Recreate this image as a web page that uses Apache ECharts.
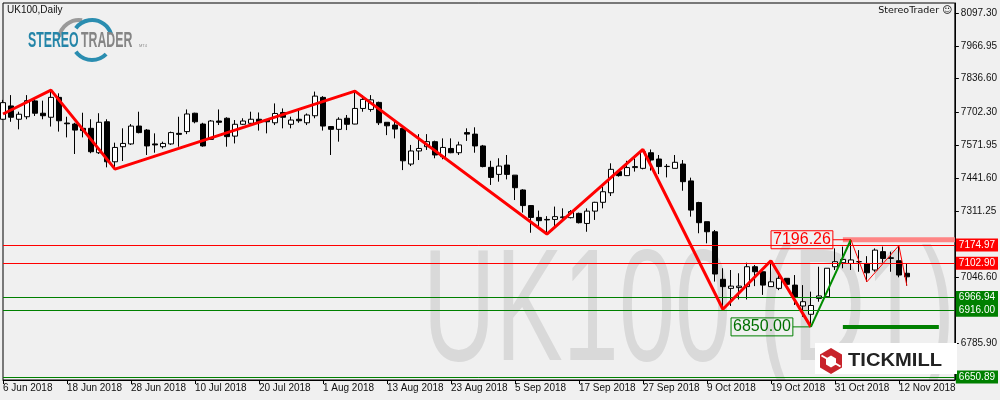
<!DOCTYPE html>
<html><head><meta charset="utf-8">
<script src="https://cdn.jsdelivr.net/npm/echarts@6/dist/echarts.min.js"></script>
<style>html,body{margin:0;padding:0;background:#f0f0f0}#c{width:1000px;height:400px}</style>
</head><body><div id="c"></div><script>
const dates = ['6 Jun 2018','7 Jun 2018','8 Jun 2018','11 Jun 2018','12 Jun 2018','13 Jun 2018','14 Jun 2018','15 Jun 2018','18 Jun 2018','19 Jun 2018','20 Jun 2018','21 Jun 2018','22 Jun 2018','25 Jun 2018','26 Jun 2018','27 Jun 2018','28 Jun 2018','29 Jun 2018',
'2 Jul 2018','3 Jul 2018','4 Jul 2018','5 Jul 2018','6 Jul 2018','9 Jul 2018','10 Jul 2018','11 Jul 2018','12 Jul 2018','13 Jul 2018','16 Jul 2018','17 Jul 2018','18 Jul 2018','19 Jul 2018','20 Jul 2018','23 Jul 2018','24 Jul 2018','25 Jul 2018','26 Jul 2018','27 Jul 2018','30 Jul 2018','31 Jul 2018',
'1 Aug 2018','2 Aug 2018','3 Aug 2018','6 Aug 2018','7 Aug 2018','8 Aug 2018','9 Aug 2018','10 Aug 2018','13 Aug 2018','14 Aug 2018','15 Aug 2018','16 Aug 2018','17 Aug 2018','20 Aug 2018','21 Aug 2018','22 Aug 2018','23 Aug 2018','24 Aug 2018','28 Aug 2018','29 Aug 2018','30 Aug 2018','31 Aug 2018',
'3 Sep 2018','4 Sep 2018','5 Sep 2018','6 Sep 2018','7 Sep 2018','10 Sep 2018','11 Sep 2018','12 Sep 2018','13 Sep 2018','14 Sep 2018','17 Sep 2018','18 Sep 2018','19 Sep 2018','20 Sep 2018','21 Sep 2018','24 Sep 2018','25 Sep 2018','26 Sep 2018','27 Sep 2018','28 Sep 2018',
'1 Oct 2018','2 Oct 2018','3 Oct 2018','4 Oct 2018','5 Oct 2018','8 Oct 2018','9 Oct 2018','10 Oct 2018','11 Oct 2018','12 Oct 2018','15 Oct 2018','16 Oct 2018','17 Oct 2018','18 Oct 2018','19 Oct 2018','22 Oct 2018','23 Oct 2018','24 Oct 2018','25 Oct 2018','26 Oct 2018','29 Oct 2018','30 Oct 2018','31 Oct 2018',
'1 Nov 2018','2 Nov 2018','5 Nov 2018','6 Nov 2018','7 Nov 2018','8 Nov 2018','9 Nov 2018','12 Nov 2018','13 Nov 2018'];

const opens = [7675,7728,7675,7685,7748,7699,7683,7762,7660,7656, 7639,7639,7542,7665,7506,7566,7577,7648,7632,7577,
7566,7577,7619,7626,7699,7656,7595,7668,7679,7608, 7655,7659,7675,7672,7661,7702,7655,7675,7661,7689,
7762,7646,7635,7679,7656,7718,7714,7742,7663,7652, 7639,7497,7549,7566,7586,7526,7559,7542,7622,7616,
7569,7484,7456,7493,7453,7394,7332,7285,7277,7277, 7284,7284,7301,7261,7310,7345,7383,7467,7451,7483,
7480,7542,7517,7487,7480,7497,7430,7344,7268,7228, 7039,7003,7006,7010,7089,7069,7010,7003,7043,7016,
6933,6900,6963,6970,7089,7105,7102,7109,7102,7076, 7149,7122,7113,7063];
const highs = [7752,7771,7705,7771,7758,7749,7791,7778,7685,7661, 7701,7675,7699,7675,7582,7639,7656,7705,7636,7619,
7586,7626,7685,7714,7701,7661,7672,7714,7683,7672, 7679,7705,7702,7675,7738,7718,7685,7714,7698,7785,
7767,7648,7683,7692,7787,7771,7771,7745,7663,7672, 7639,7573,7616,7616,7590,7599,7599,7586,7639,7643,
7573,7510,7520,7533,7453,7397,7334,7312,7290,7328, 7321,7314,7304,7321,7347,7407,7500,7470,7510,7520,
7555,7555,7533,7497,7533,7513,7443,7347,7268,7235, 7083,7076,7063,7105,7096,7069,7113,7056,7043,7056,
7016,6990,7089,7083,7162,7169,7196.26,7155,7131,7162, 7169,7149,7173,7102];
const lows = [7672,7665,7635,7675,7688,7675,7646,7626,7603,7537, 7603,7540,7537,7484,7477,7509,7573,7619,7533,7542,
7559,7573,7566,7616,7659,7566,7593,7652,7566,7579, 7652,7652,7630,7619,7652,7639,7639,7661,7652,7679,
7630,7533,7586,7632,7655,7705,7705,7652,7612,7599, 7473,7489,7513,7553,7520,7516,7540,7533,7589,7542,
7484,7414,7427,7436,7354,7304,7224,7251,7219,7251, 7268,7281,7261,7228,7275,7321,7370,7447,7450,7467,
7476,7471,7457,7444,7480,7391,7288,7222,7182,7030, 6920,6933,6959,6959,7012,6977,7010,6996,7012,6937,
6890,6850,6950,6970,7076,7083,7076,7069,7029,7069, 7105,7069,7047,7014];
const closes = [7741,7683,7695,7749,7699,7689,7762,7669,7657,7632, 7630,7546,7663,7506,7563,7579,7648,7622,7569,7573,
7579,7622,7615,7696,7665,7569,7668,7663,7606,7655, 7668,7675,7665,7665,7698,7683,7672,7669,7692,7767,
7648,7635,7675,7655,7718,7754,7752,7661,7649,7636, 7510,7549,7559,7586,7533,7563,7542,7573,7616,7569,
7487,7444,7489,7456,7403,7332,7285,7272,7275,7288, 7287,7308,7264,7310,7345,7387,7476,7451,7483,7487,
7546,7513,7487,7488,7504,7427,7314,7264,7228,7060, 7010,7012,7012,7089,7069,7016,7029,7043,7019,6967,
6950,6935,6973,7083,7109,7118,7116,7109,7065,7155, 7122,7125,7056,7049];

// zigzag pivots (bar index, price)
const zigIdx  = [0, 6, 14, 44, 68, 80, 90, 96, 101];
const zigVal  = [7696, 7791, 7477, 7787, 7219, 7555, 6920, 7113, 6850];
const upIdx   = [101, 106];
const upVal   = [6850, 7196.26];
const thinIdx = [106, 108, 112, 113];
const thinVal = [7196.26, 7029, 7173, 7014];

// horizontal levels
const levelVals   = [7174.97, 7102.90, 6966.94, 6916.00, 6650.89];
const levelColors = ['#ff0000', '#ff0000', '#008000', '#008000', '#008000'];
const resistance = 7196.26;
const support = 6850.00;

const yTicks = [8097.30, 7966.95, 7836.60, 7702.30, 7571.95, 7441.60, 7311.25, 7046.60, 6785.90];
const N_SLOTS = 120;

const FONT = "'Liberation Sans', Arial, sans-serif";
const cats = dates.concat(new Array(N_SLOTS - dates.length).fill(''));
const candleData = opens.map((o, i) => [o, closes[i], lows[i], highs[i]]);
const pairs = (idx, val) => idx.map((x, i) => [x, val[i]]);

const chart = echarts.init(document.getElementById('c'));
const option = {
  animation: false,
  backgroundColor: '#f0f0f0',
  textStyle: { fontFamily: FONT },
  grid: { left: 3, right: 43, top: 3, bottom: 20, show: true, borderColor: '#000', borderWidth: 1, backgroundColor: 'transparent' },
  xAxis: {
    type: 'category', data: cats, boundaryGap: false,
    axisLine: { lineStyle: { color: '#000', width: 1 } },
    axisTick: { interval: 7, length: 4, lineStyle: { color: '#000' } },
    axisLabel: { interval: 7, align: 'left', margin: 3, fontSize: 10, color: '#111', fontFamily: FONT },
    splitLine: { show: false }
  },
  yAxis: {
    type: 'value', position: 'right', min: 6638.9, max: 8137.0,
    axisLine: { show: true, lineStyle: { color: '#000' } },
    axisTick: { show: true, length: 4, customValues: yTicks, lineStyle: { color: '#000' } },
    axisLabel: { customValues: yTicks, formatter: v => v.toFixed(2), margin: 6, fontSize: 10, color: '#111', fontFamily: FONT },
    splitLine: { show: false }
  },
  graphic: { elements: [
    { type: 'text', z: -10, x: 955, y: 396, scaleX: 0.63,
      style: { text: 'UK100 (D1)', font: "160px 'Liberation Sans'", fill: '#d9d9d9', textAlign: 'right', textVerticalAlign: 'bottom' } },
    { type: 'rect', z: -5, shape: { x: 0, y: 380.5, width: 1000, height: 20 }, style: { fill: '#f0f0f0' } },
    { type: 'text', z: 50, x: 7, y: 5, style: { text: 'UK100,Daily', font: "10px 'Liberation Sans'", fill: '#111' } },
    { type: 'text', z: 50, x: 952, y: 6, style: { text: 'StereoTrader \u263A', font: "9.5px 'DejaVu Sans'", fill: '#111', textAlign: 'right' } },
    // StereoTrader logo rings
    { type: 'arc', z: 50, shape: { cx: 79, cy: 40, r: 20, startAngle: Math.PI * 1.05, endAngle: Math.PI * 1.55 }, style: { stroke: '#9a9a9a', lineWidth: 4, fill: null } },
    { type: 'arc', z: 50, shape: { cx: 92, cy: 40, r: 20, startAngle: Math.PI * 1.2, endAngle: Math.PI * 1.9 }, style: { stroke: '#2a8db0', lineWidth: 4, fill: null } },
    { type: 'arc', z: 50, shape: { cx: 92, cy: 40, r: 20, startAngle: Math.PI * 0.25, endAngle: Math.PI * 0.8 }, style: { stroke: '#2a8db0', lineWidth: 4, fill: null } },
    { type: 'text', z: 51, x: 28, y: 30, scaleX: 0.56, style: { text: 'STEREO', font: "bold 22px 'Liberation Sans'", fill: '#2485a8' } },
    { type: 'text', z: 51, x: 81, y: 30, scaleX: 0.56, style: { text: 'TRADER', font: "bold 22px 'Liberation Sans'", fill: '#858585' } },
    { type: 'text', z: 51, x: 139, y: 44, style: { text: 'MT4', font: "4px 'Liberation Sans'", fill: '#8a8a8a' } },
    // Tickmill logo
    { type: 'rect', z: 50, shape: { x: 815, y: 343, width: 142, height: 31 }, style: { fill: '#ffffff' } },
    { type: 'polygon', z: 51, shape: { points: [[831,348],[842,354.5],[842,367.5],[831,374],[820,367.5],[820,354.5]] }, style: { fill: '#c8232b' } },
    { type: 'polygon', z: 52, shape: { points: [[831,355.5],[836,358.5],[836,364.5],[831,367.5],[826,364.5],[826,358.5]] }, style: { fill: '#ffffff' } },
    { type: 'rect', z: 52, rotation: -Math.PI / 6, originX: 831, originY: 361, shape: { x: 820, y: 360, width: 22, height: 2 }, style: { fill: '#ffffff' } },
    { type: 'text', z: 52, x: 848, y: 352, scaleX: 1.12, style: { text: 'TICKMILL', font: "bold 18px 'Liberation Sans'", fill: '#222222' } }
  ] },
  series: [
    {
      type: 'candlestick', data: candleData, barWidth: 5, z: 3,
      itemStyle: { color: '#ffffff', color0: '#000000', borderColor: '#000000', borderColor0: '#000000', borderWidth: 1 },
      markLine: {
        silent: true, symbol: ['none', 'none'], animation: false,
        data: levelVals.map((v, i) => ({
          yAxis: v,
          lineStyle: { color: levelColors[i], width: 1, type: 'solid' },
          label: { show: true, position: 'end', distance: 1, formatter: v.toFixed(2), color: '#ffffff',
                   backgroundColor: levelColors[i], padding: [2, 3, 1, 3], fontSize: 10, fontFamily: FONT }
        }))
      }
    },
    { type: 'line', data: [[105, resistance], [119, resistance]], symbol: 'none', z: 2,
      lineStyle: { color: '#ff8585', width: 5 }, silent: true },
    { type: 'line', data: [[105, support], [117, support]], symbol: 'none', z: 2,
      lineStyle: { color: '#008000', width: 4 }, silent: true },
    { type: 'line', data: pairs(zigIdx, zigVal), symbol: 'none', z: 5,
      lineStyle: { color: '#ff0000', width: 3 }, silent: true },
    { type: 'line', data: pairs(upIdx, upVal), symbol: 'none', z: 5,
      lineStyle: { color: '#008c00', width: 2 }, silent: true,
      markPoint: {
        silent: true, animation: false,
        data: [
          { coord: [106, resistance], symbol: 'rect', symbolSize: [18, 1], symbolOffset: [-9, 0],
            itemStyle: { color: '#ff0000' },
            label: { show: true, position: 'left', distance: 0, formatter: resistance.toFixed(2), color: '#ff0000',
                     borderColor: '#ff0000', borderWidth: 1, padding: [2, 2, 0, 2], fontSize: 16, fontFamily: FONT } },
          { coord: [101, support], symbol: 'rect', symbolSize: [18, 1], symbolOffset: [-9, 0],
            itemStyle: { color: '#008000' },
            label: { show: true, position: 'left', distance: 0, formatter: support.toFixed(2), color: '#007000',
                     borderColor: '#008000', borderWidth: 1, padding: [2, 2, 0, 2], fontSize: 16, fontFamily: FONT } }
        ]
      }
    },
    { type: 'line', data: pairs(thinIdx, thinVal), symbol: 'none', z: 5,
      lineStyle: { color: '#ff0000', width: 1 }, silent: true }
  ]
};
chart.setOption(option);
</script></body></html>
